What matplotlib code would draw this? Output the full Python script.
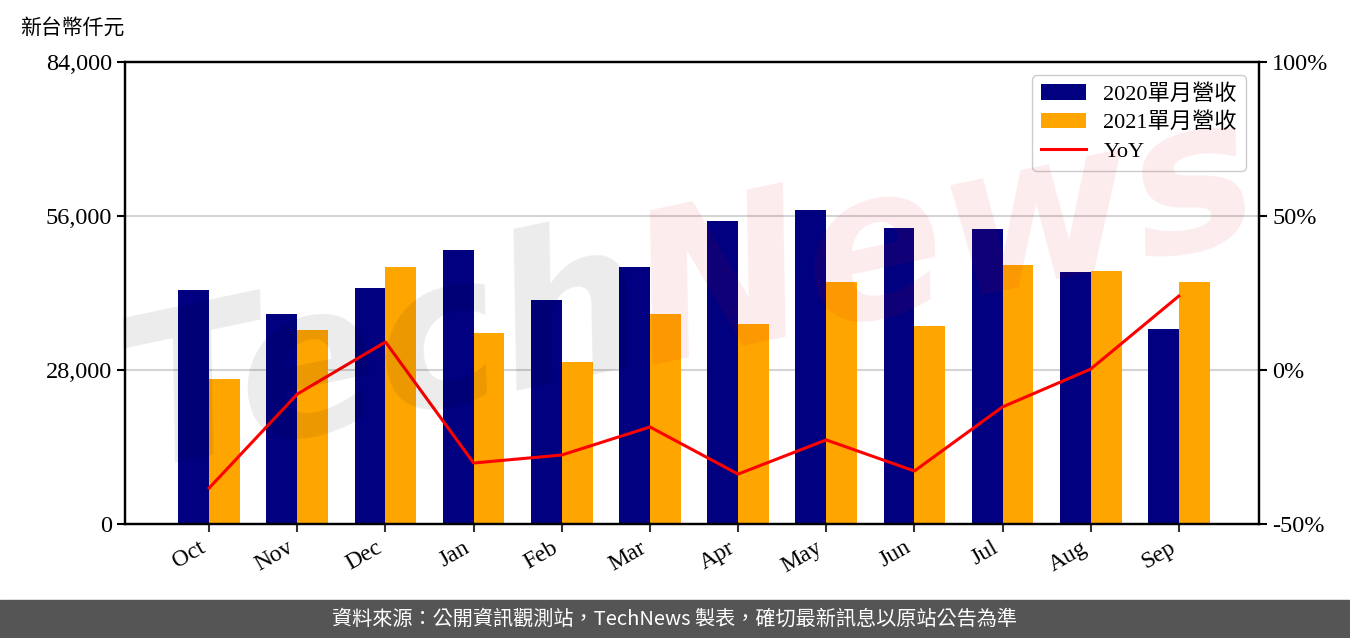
"""Monthly revenue 2020 vs 2021 with YoY line (TechNews style)."""

import numpy as np
import matplotlib
matplotlib.use("Agg")
import matplotlib.pyplot as plt
from matplotlib.patches import Rectangle
from matplotlib.ticker import FuncFormatter

plt.rcParams["font.family"] = ["Liberation Serif", "Noto Sans CJK TC"]

months = ["Oct", "Nov", "Dec", "Jan", "Feb", "Mar", "Apr", "May", "Jun", "Jul", "Aug", "Sep"]
rev_2020 = [42500, 38200, 42900, 49800, 40700, 46700, 55100, 57100, 53800, 53600, 45800, 35500]
rev_2021 = [26400, 35300, 46700, 34700, 29500, 38200, 36400, 44000, 36000, 47100, 46000, 44000]
yoy = [-38.3, -7.8, 9.1, -30.2, -27.6, -18.5, -33.8, -22.7, -32.8, -12.0, 0.3, 24.0]

left_ticks = [0, 28000, 56000, 84000]
right_ticks = [-50, 0, 50, 100]

fig = plt.figure(figsize=(13.5, 6.38), dpi=100)
ax = fig.add_axes([0.0926, 0.1787, 0.84, 0.7241])

x = np.arange(len(months))
w = 0.35
b1 = ax.bar(x - w / 2, rev_2020, w, color="#000080", label="2020單月營收")
b2 = ax.bar(x + w / 2, rev_2021, w, color="#ffa500", label="2021單月營收")

ax.set_ylim(0, 84000)
ax.set_xlim(-0.955, 11.91)
ax.set_yticks(left_ticks)
ax.yaxis.set_major_formatter(FuncFormatter(lambda v, p: f"{v:,.0f}"))
ax.set_xticks(x)
ax.set_xticklabels(months, rotation=30, ha="right")
ax.set_axisbelow(True)
ax.grid(axis="y", color="#d3d3d3", linewidth=1.5)
ax.tick_params(axis="y", labelsize=17.5, length=6, width=1.5)
ax.tick_params(axis="x", labelsize=17, length=6, width=1.5, color="#333333")
for s in ax.spines.values():
    s.set_linewidth(1.6)

ax2 = ax.twinx()
line, = ax2.plot(x, yoy, color="red", linewidth=2.2, label="YoY")
ax2.set_ylim(-50, 100)
ax2.set_yticks(right_ticks)
ax2.yaxis.set_major_formatter(FuncFormatter(lambda v, p: f"{v:.0f}%"))
ax2.tick_params(axis="y", labelsize=17.5, length=6, width=1.5)
for s in ax2.spines.values():
    s.set_linewidth(1.6)

ax2.legend(handles=[b1, b2, line], loc="upper right", fontsize=16,
           framealpha=1, edgecolor="#cccccc", borderaxespad=0.6,
           labelspacing=0.35)

fig.text(0.015, 0.957, "新台幣仟元", fontsize=15, ha="left", va="center",
         family=["Noto Sans CJK TC"])

# watermark
fig.text(0.285, 0.44, "Tech", fontsize=150, color="black", alpha=0.08,
         rotation=12, ha="center", va="center", fontweight="bold",
         fontstyle="italic", family="DejaVu Sans", zorder=10)
fig.text(0.70, 0.62, "News", fontsize=150, color="#dc001e", alpha=0.08,
         rotation=12, ha="center", va="center", fontweight="bold",
         fontstyle="italic", family="DejaVu Sans", zorder=10)

# footer
fig.add_artist(Rectangle((0, 0), 1, 38 / 638, transform=fig.transFigure,
                         color="#555555", zorder=0))
fig.text(0.5, 19 / 638, "資料來源：公開資訊觀測站，TechNews 製表，確切最新訊息以原站公告為準",
         color="white", fontsize=14.5, ha="center", va="center",
         family=["Noto Sans CJK TC"])

fig.savefig("out.png", dpi=100)
